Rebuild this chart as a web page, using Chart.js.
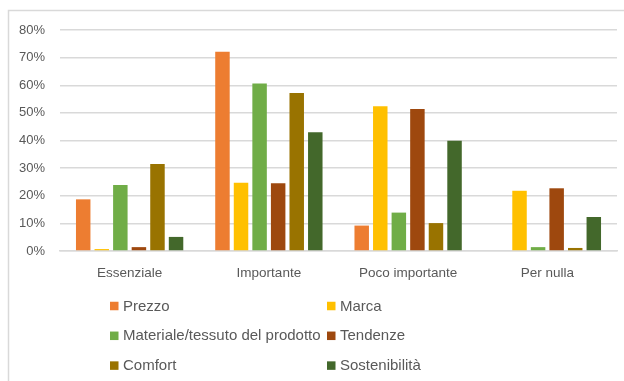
<!DOCTYPE html>
<html>
<head>
<meta charset="utf-8">
<script src="https://cdn.jsdelivr.net/npm/chart.js@4/dist/chart.umd.min.js"></script>
<style>
  html, body { margin: 0; padding: 0; background: #ffffff; }
  #wrap { width: 624px; height: 381px; position: relative; }
</style>
</head>
<body>
<div id="wrap"><canvas id="c" width="624" height="381"></canvas></div>
<script>
// Importance categories (x axis)
const categories = ['Essenziale', 'Importante', 'Poco importante', 'Per nulla'];

// Share of respondents per factor, in percent
const prezzo      = [18.7, 72.1, 9.2, 0];
const marca       = [0.7, 24.7, 52.4, 21.8];
const materiale   = [23.9, 60.6, 13.9, 1.4];
const tendenze    = [1.4, 24.5, 51.4, 22.7];
const comfort     = [31.5, 57.2, 10.1, 1.1];
const sostenibile = [5.1, 43.0, 39.9, 12.3];

const seriesNames = ['Prezzo', 'Marca', 'Materiale/tessuto del prodotto', 'Tendenze', 'Comfort', 'Sostenibilità'];
const seriesData  = [prezzo, marca, materiale, tendenze, comfort, sostenibile];
const seriesColors = ['#ED7D31', '#FFC000', '#70AD47', '#9E480E', '#997300', '#43682B'];

// Y axis tick values, percent
const yTicks = [0, 10, 20, 30, 40, 50, 60, 70, 80];

const FONT = '"Liberation Sans", Arial, sans-serif';
const TEXT = '#595959';
const GRID = '#d9d9d9';

// Light frame around the whole chart object
const framePlugin = {
  id: 'frame',
  beforeDraw(chart) {
    const ctx = chart.ctx;
    ctx.save();
    ctx.fillStyle = '#ffffff';
    ctx.fillRect(0, 0, chart.width, chart.height);
    ctx.strokeStyle = GRID;
    ctx.lineWidth = 1.5;
    ctx.strokeRect(8.5, 10.5, chart.width + 20, chart.height + 20);
    ctx.restore();
  }
};

// Two-column legend below the plot
const gridLegend = {
  id: 'gridLegend',
  afterDraw(chart) {
    const ctx = chart.ctx;
    const colX = [110, 327];
    const rowY0 = 306, rowGap = 29.8, box = 8.5;
    ctx.save();
    ctx.font = '15px ' + FONT;
    ctx.textBaseline = 'middle';
    chart.data.datasets.forEach((ds, i) => {
      const x = colX[i % 2];
      const y = rowY0 + Math.floor(i / 2) * rowGap;
      ctx.fillStyle = ds.backgroundColor;
      ctx.fillRect(x, y - box / 2, box, box);
      ctx.fillStyle = TEXT;
      ctx.fillText(ds.label, x + 13, y + 0.5);
    });
    ctx.restore();
  }
};

new Chart(document.getElementById('c'), {
  type: 'bar',
  data: {
    labels: categories,
    datasets: seriesNames.map((name, i) => ({
      label: name,
      data: seriesData[i],
      backgroundColor: seriesColors[i],
      borderWidth: 0,
      categoryPercentage: 0.8,
      barPercentage: 0.78
    }))
  },
  options: {
    responsive: false,
    animation: false,
    devicePixelRatio: 1,
    layout: { padding: { top: 30, right: 7, left: 0, bottom: 0 } },
    plugins: {
      legend: { display: false },
      tooltip: { enabled: false }
    },
    scales: {
      x: {
        grid: { display: false, drawTicks: false },
        border: { display: true, color: GRID, width: 1.5 },
        ticks: { color: TEXT, font: { family: FONT, size: 13.5 }, padding: 14, maxRotation: 0 },
        afterFit(scale) { scale.height = 130; }
      },
      y: {
        min: 0,
        max: 80,
        afterBuildTicks(scale) { scale.ticks = yTicks.map(v => ({ value: v })); },
        grid: { color: GRID, lineWidth: 1.5, drawTicks: false },
        border: { display: false },
        ticks: {
          color: TEXT,
          font: { family: FONT, size: 13 },
          padding: 15,
          callback: v => v + '%'
        },
        afterFit(scale) { scale.width = 60; }
      }
    }
  },
  plugins: [framePlugin, gridLegend]
});
</script>
</body>
</html>
